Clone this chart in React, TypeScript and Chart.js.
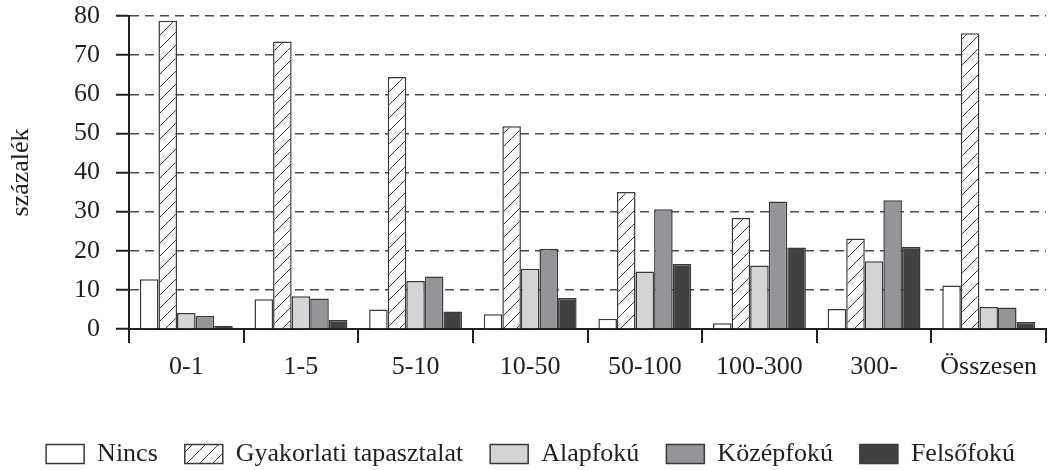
import React, { useEffect, useRef } from 'react';
import { Chart, registerables } from 'chart.js';

Chart.register(...registerables);

const categories = ['0-1', '1-5', '5-10', '10-50', '50-100', '100-300', '300-', 'Összesen'];
const seriesNames = ['Nincs', 'Gyakorlati tapasztalat', 'Alapfokú', 'Középfokú', 'Felsőfokú'];
const nincs = [12.7, 7.6, 5.0, 3.8, 2.6, 1.5, 5.1, 11.1];
const gyakorlati = [78.8, 73.5, 64.4, 51.8, 35.0, 28.4, 23.1, 75.6];
const alapfoku = [4.1, 8.4, 12.3, 15.4, 14.7, 16.2, 17.3, 5.6];
const kozepfoku = [3.3, 7.8, 13.4, 20.5, 30.6, 32.6, 32.9, 5.5];
const felsofoku = [0.8, 2.3, 4.5, 7.9, 16.6, 20.8, 21.0, 1.8];
const yMin = 0;
const yMax = 80;
const yStep = 10;
const yTitle = 'százalék';

const INK = '#231f20';
const FONT = "'Liberation Serif', 'Times New Roman', serif";

function makeHatch(): CanvasPattern | string {
  const size = 13;
  const c = document.createElement('canvas');
  c.width = size;
  c.height = size;
  const ctx = c.getContext('2d');
  if (!ctx) return '#ffffff';
  ctx.fillStyle = '#ffffff';
  ctx.fillRect(0, 0, size, size);
  ctx.strokeStyle = '#3a3a3a';
  ctx.lineWidth = 1;
  ctx.beginPath();
  ctx.moveTo(0, size);
  ctx.lineTo(size, 0);
  ctx.moveTo(-2, 2);
  ctx.lineTo(2, -2);
  ctx.moveTo(size - 2, size + 2);
  ctx.lineTo(size + 2, size - 2);
  ctx.stroke();
  return ctx.createPattern(c, 'repeat') || '#ffffff';
}

export default function App() {
  const ref = useRef<HTMLCanvasElement | null>(null);

  useEffect(() => {
    const canvas = ref.current;
    if (!canvas) return;
    const hatch = makeHatch();
    const border = '#3a3a3a';
    const fills = ['#ffffff', hatch, '#d3d4d6', '#939598', '#414042'];
    const values = [nincs, gyakorlati, alapfoku, kozepfoku, felsofoku];

    const chart = new Chart(canvas, {
      type: 'bar',
      data: {
        labels: categories,
        datasets: seriesNames.map((name, i) => ({
          label: name,
          data: values[i],
          backgroundColor: fills[i] as any,
          borderColor: border,
          borderWidth: 1.5,
          categoryPercentage: 0.81,
          barPercentage: 1,
        })),
      },
      options: {
        responsive: false,
        animation: false,
        devicePixelRatio: 1,
        layout: { padding: { left: 15, right: 5, top: 16, bottom: -7 } },
        font: { family: FONT, size: 26 },
        plugins: {
          legend: {
            position: 'bottom',
            labels: {
              color: INK,
              font: { family: FONT, size: 26 },
              boxWidth: 38,
              boxHeight: 19,
              padding: 27,
            },
          },
          tooltip: { enabled: false },
        },
        scales: {
          x: {
            grid: {
              display: true,
              drawOnChartArea: false,
              drawTicks: true,
              tickLength: 14,
              color: INK,
              lineWidth: 2,
              offset: true,
            },
            border: { display: true, color: INK, width: 2 },
            ticks: {
              color: INK,
              padding: 9,
              maxRotation: 0,
              autoSkip: false,
              font: { family: FONT, size: 26 },
            },
            afterFit: (scale: any) => {
              scale.height = 85;
            },
          },
          y: {
            min: yMin,
            max: yMax,
            ticks: {
              stepSize: yStep,
              autoSkip: false,
              color: INK,
              padding: 16,
              font: { family: FONT, size: 26 },
            },
            grid: {
              color: '#4a4a4a',
              lineWidth: 1.5,
              tickLength: 13,
              tickColor: INK,
              tickWidth: 2,
              tickBorderDash: [],
            } as any,
            border: { display: true, color: INK, width: 2, dash: [9, 6] } as any,
            title: {
              display: true,
              text: yTitle,
              color: INK,
              padding: { top: -9, bottom: 0 },
              font: { family: FONT, size: 26 },
            },
            afterFit: (scale: any) => {
              scale.width = 114;
              scale.paddingTop = 0;
              scale.paddingBottom = 0;
            },
          },
        },
      },
    } as any);

    return () => chart.destroy();
  }, []);

  return (
    <div style={{ position: 'fixed', left: 0, top: 0, width: 1051, height: 470, background: '#ffffff' }}>
      <canvas ref={ref} width={1051} height={470} />
    </div>
  );
}
